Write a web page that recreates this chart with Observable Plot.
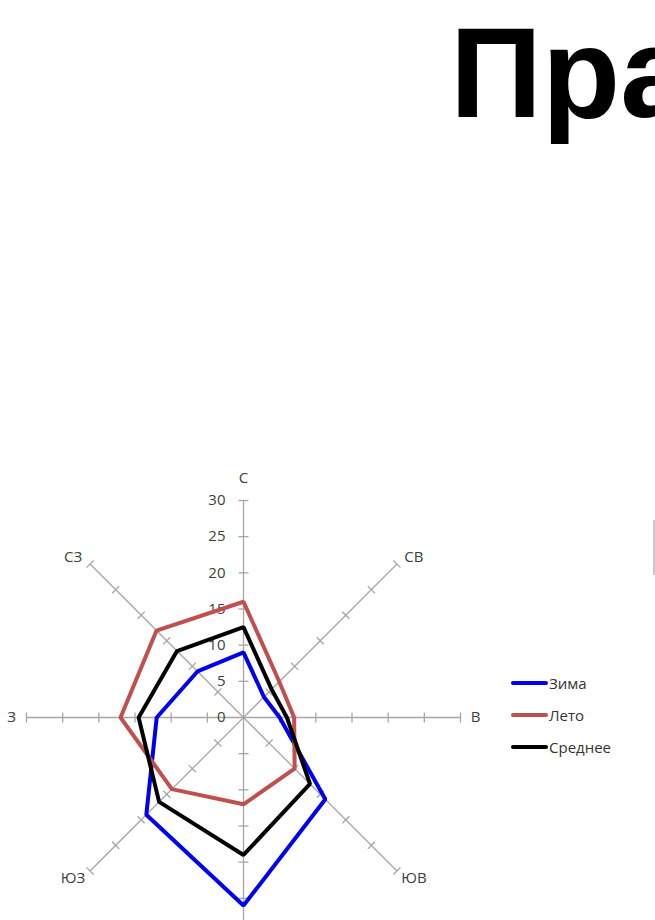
<!DOCTYPE html>
<html><head><meta charset="utf-8">
<script src="https://cdn.jsdelivr.net/npm/d3@7"></script>
<script src="https://cdn.jsdelivr.net/npm/@observablehq/plot@0.6"></script>
<style>
html,body{margin:0;padding:0;background:#fff;width:655px;height:920px;overflow:hidden;position:relative;font-family:"Open Sans",sans-serif}
#title{position:absolute;left:450px;top:9px;font:bold 128px/1 "Liberation Sans",Arial,sans-serif;white-space:nowrap;color:#000}
#chart{position:absolute;left:0;top:460px}
#edge{position:absolute;left:653px;top:520px;width:2px;height:55px;background:#c8c8c8}
.lg{position:absolute;left:511px;height:20px;display:flex;align-items:center;font-size:15px;color:#333;white-space:nowrap}
.lg span.sw{display:inline-block;width:37px;height:4px;margin-right:1px;border-radius:2px}
</style>
</head><body>
<div id="title">Практическая работа</div>
<div id="edge"></div>
<div id="chart"></div>
<div id="legend"></div>
<script>
const directions = ["С","СВ","В","ЮВ","Ю","ЮЗ","З","СЗ"];
const winter  = [9, 4, 5, 16, 26, 19, 12, 9];
const summer  = [16, 7, 7, 10, 12, 14, 17, 17];
const average = [12.5, 5.5, 6, 13, 19, 16.5, 14.5, 13];
const radialTicks = [0, 5, 10, 15, 20, 25, 30];
const seriesNames = ["Зима", "Лето", "Среднее"];

const seriesColors = ["#0000f0", "#c0504d", "#000000"];
const R = 30;
const pxPerUnit = 434 / 60;
const ang = i => i * Math.PI / 4;
const pt = (r, i) => ({x: r * Math.sin(ang(i)), y: r * Math.cos(ang(i))});

const lineData = [];
[winter, summer, average].forEach((arr, k) =>
  arr.forEach((v, i) => lineData.push({series: seriesNames[k], dir: directions[i], ...pt(v, i)})));

const spokes = directions.map((d, i) => ({d, ...pt(R, i)}));
const tickHalf = 5 / pxPerUnit;
const tickSegs = [];
directions.forEach((d, i) => {
  radialTicks.filter(t => t > 0).forEach(t => {
    const p = pt(t, i);
    const px = Math.cos(ang(i)), py = -Math.sin(ang(i));
    tickSegs.push({x1: p.x - px * tickHalf, y1: p.y - py * tickHalf, x2: p.x + px * tickHalf, y2: p.y + py * tickHalf});
  });
});
const dirLabels = directions.map((d, i) => {
  const p = pt(R, i);
  const diag = i % 2 === 1;
  const ox = Math.sin(ang(i)) * (diag ? 24 : 15) / pxPerUnit;
  const oy = Math.cos(ang(i)) * (diag ? 10 : 22) / pxPerUnit;
  return {d, x: p.x + ox, y: p.y + oy};
});

const chart = Plot.plot({
  width: 655,
  height: 460,
  margin: 0,
  style: {background: "transparent", overflow: "visible"},
  x: {domain: [-R, R], range: [26, 460], axis: null},
  y: {domain: [-R, R], range: [474, 40], axis: null},
  color: {domain: seriesNames, range: seriesColors},
  marks: [
    Plot.link(spokes, {x1: 0, y1: 0, x2: "x", y2: "y", stroke: "#a6a6a6", strokeWidth: 1.3}),
    Plot.link(tickSegs, {x1: "x1", y1: "y1", x2: "x2", y2: "y2", stroke: "#a6a6a6", strokeWidth: 1.3}),
    Plot.text(radialTicks, {x: 0, y: d => d, text: d => String(d), textAnchor: "end", dx: -18, fontSize: 15, fill: "#404040", fontFamily: "Open Sans"}),
    Plot.text(dirLabels, {x: "x", y: "y", text: "d", fontSize: 15, fill: "#404040", fontFamily: "Open Sans"}),
    Plot.line(lineData, {x: "x", y: "y", z: "series", stroke: "series", curve: "linear-closed", strokeWidth: 4, strokeLinejoin: "miter"})
  ]
});
document.getElementById("chart").appendChild(chart);

const legend = document.getElementById("legend");
seriesNames.forEach((s, k) => {
  const row = document.createElement("div");
  row.className = "lg";
  row.style.top = (673 + k * 32) + "px";
  const sw = document.createElement("span");
  sw.className = "sw";
  sw.style.background = seriesColors[k];
  row.appendChild(sw);
  row.appendChild(document.createTextNode(s));
  legend.appendChild(row);
});
</script>
</body></html>
